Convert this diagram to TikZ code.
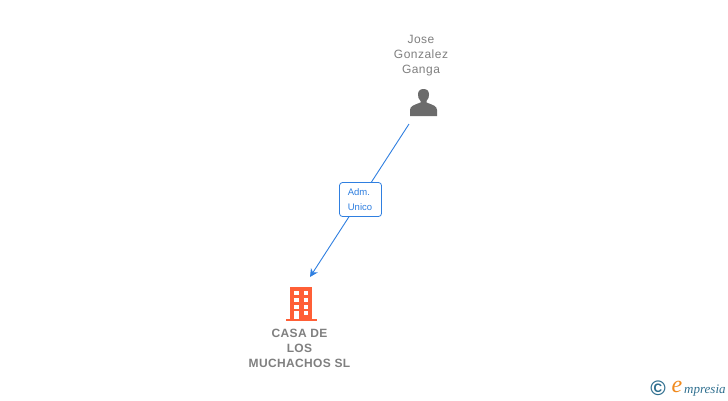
\documentclass[tikz,border=0pt]{standalone}
\usepackage{fontspec}
\setmainfont{Liberation Sans}
\newfontfamily\logofont[Ligatures=TeX]{Liberation Serif}
\usetikzlibrary{arrows.meta}
\definecolor{txtgray}{HTML}{7F7F7F}
\definecolor{icongray}{HTML}{6B6B6B}
\definecolor{linkblue}{HTML}{2F7FE0}
\definecolor{bldg}{HTML}{FF5F36}
\definecolor{logoteal}{HTML}{2F6F8F}
\definecolor{logoorange}{HTML}{F08A1E}
\tikzset{
  x=1pt,y=-1pt,
  person/.style={font=\fontsize{12}{15}\selectfont\addfontfeature{LetterSpace=4},text=txtgray,align=center,inner sep=0pt},
  company/.style={font=\fontsize{12}{15}\selectfont\bfseries\addfontfeature{LetterSpace=3},text=txtgray,align=center,inner sep=0pt},
  link/.style={draw=linkblue,line width=0.9pt,-{Stealth[length=8pt,width=8pt,inset=2.5pt]}},
  rolebox/.style={draw=linkblue,line width=0.8pt,rounded corners=3pt,fill=white,text=linkblue,
    font=\fontsize{9.5}{15}\selectfont,align=left,minimum width=42pt,minimum height=34pt,inner sep=0pt},
}
\begin{document}
\begin{tikzpicture}
\useasboundingbox (0,0) rectangle (728,400);
% connector
\coordinate (from) at (409,124);
\coordinate (to) at (310,277);
\draw[link] (from) -- (to);
\node[rolebox] (role) at (360.5,199.5) {\hspace*{-1pt}Adm.\\\hspace*{-1pt}Unico};
% person
\node[person] (joselabel) at (421,56) {Jose\\Gonzalez\\Ganga};
\fill[icongray] (410,116) -- (410,110) .. controls (410,106) and (414,105) .. (420.5,102.5)
  -- (420.5,101) .. controls (418.5,99.5) and (418,96.5) .. (418,94.5) .. controls (418,91) and (420,89) .. (423.5,89)
  .. controls (427,89) and (429,91) .. (429,94.5) .. controls (429,96.5) and (428.5,99.5) .. (426.5,101)
  -- (426.5,102.5) .. controls (433,105) and (437,106) .. (437,110) -- (437,116) -- cycle;
% building
\fill[bldg] (290,287) rectangle (312,319);
\fill[bldg] (285.5,318.5) rectangle (317,320.5);
\foreach \y in {291,297.5,304.5}{
  \fill[white] (294,\y) rectangle (298.5,\y+4);
  \fill[white] (303.5,\y) rectangle (308,\y+4);
}
\fill[white] (294,311) rectangle (298.5,318.5);
\fill[white] (303.5,311) rectangle (308,315);
\node[company] (caselabel) at (299.5,348) {CASA DE\\LOS\\MUCHACHOS SL};
% logo
\node[inner sep=0pt,text=logoteal,font=\fontsize{21}{21}\selectfont\bfseries] (copy) at (658,388) {©};
\node[inner sep=0pt,text=logoorange,font=\logofont\itshape\fontsize{24}{24}\selectfont] (elogo) at (677,386.5) {e};
\node[inner sep=0pt,anchor=base west,text=logoteal,font=\logofont\itshape\fontsize{13}{13}\selectfont] (mpresia) at (684,393) {mpresia};
\end{tikzpicture}
\end{document}
